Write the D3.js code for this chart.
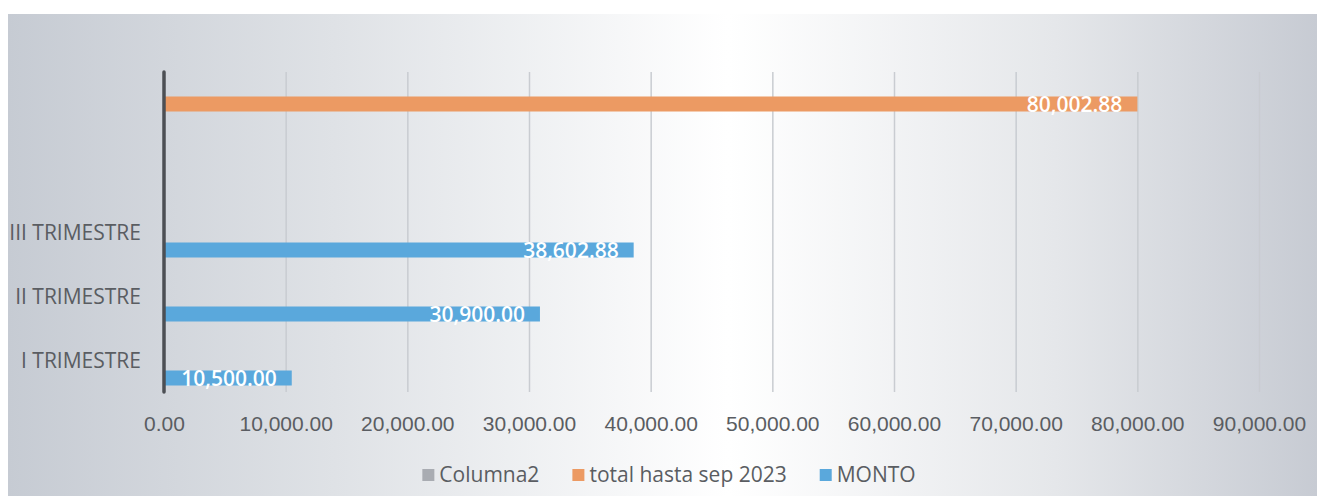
<!DOCTYPE html>
<meta charset="utf-8">
<style>
  body { margin: 0; background: #fff; }
  svg { display: block; font-family: "Open Sans", sans-serif; }
  .tick text { fill: #5a5d62; }
</style>
<body>
<svg id="chart" width="1317" height="496"></svg>
<script src="https://cdn.jsdelivr.net/npm/d3@7"></script>
<script>
  // data (bottom to top)
  var categories = ["I TRIMESTRE", "II TRIMESTRE", "III TRIMESTRE", "", ""]
  var columna2 = [null, null, null, null, null]
  var totalHasta = [null, null, null, null, 80002.88]
  var monto = [10500, 30900, 38602.88, null, null]
  var xTicks = [0, 10000, 20000, 30000, 40000, 50000, 60000, 70000, 80000, 90000]
  var seriesNames = ["Columna2", "total hasta sep 2023", "MONTO"]
  var seriesColors = ["#a9acb2", "#ec9a63", "#5aa8dc"]
  var seriesValues = [columna2, totalHasta, monto]

  var width = 1317
  var height = 496
  var margin = { top: 72, right: 57, bottom: 104, left: 164 }

  var svg = d3.select('#chart')

  // background panel gradient
  var grad = svg.append('defs').append('linearGradient')
    .attr('id', 'bg')
    .attr('x1', '0%').attr('y1', '0%')
    .attr('x2', '100%').attr('y2', '0%')
  var stops = [[0, '#c6cbd3'], [0.25, '#dfe2e6'], [0.55, '#ffffff'], [0.8, '#e5e7ea'], [1, '#c7cbd3']]
  stops.forEach(function (s) {
    grad.append('stop').attr('offset', s[0]).attr('stop-color', s[1])
  })
  svg.append('rect')
    .attr('x', 8).attr('y', 14)
    .attr('width', width - 8).attr('height', height - 14)
    .attr('fill', 'url(#bg)')

  var x = d3.scaleLinear()
    .domain([0, 90000])
    .range([margin.left, width - margin.right - 1])

  var y = d3.scaleBand()
    .domain(d3.range(categories.length).reverse())
    .range([margin.top, height - margin.bottom])

  // series position inside each category
  var ySeries = d3.scaleBand()
    .domain(seriesNames)
    .range([-27, 27])
    .paddingInner(3 / 18)
    .paddingOuter(1.5 / 18)

  var plotBottom = height - margin.bottom

  // gridlines
  svg.append('g')
    .attr('transform', 'translate(0,' + plotBottom + ')')
    .call(d3.axisBottom(x).tickValues(xTicks.slice(1)).tickSize(-(plotBottom - margin.top)).tickFormat(''))
    .call(function (g) { g.select('.domain').remove() })
    .call(function (g) {
      g.selectAll('line').attr('stroke', '#c9ccd1').attr('stroke-width', 1.5)
    })

  // x axis labels
  svg.append('g')
    .attr('transform', 'translate(0,' + (plotBottom + 21) + ')')
    .call(d3.axisBottom(x).tickValues(xTicks).tickSize(0).tickFormat(d3.format(',.2f')))
    .call(function (g) { g.select('.domain').remove() })
    .call(function (g) {
      g.selectAll('text').attr('font-size', 21).attr('dy', '0.71em')
    })

  // category labels
  svg.append('g')
    .selectAll('text')
    .data(categories)
    .enter().append('text')
    .attr('x', 141)
    .attr('y', function (d, i) { return y(i) + y.bandwidth() / 2 + 7.5 })
    .attr('text-anchor', 'end')
    .attr('font-size', 21)
    .attr('fill', '#5a5d62')
    .text(function (d) { return d })

  // bars
  seriesNames.forEach(function (name, s) {
    var rows = seriesValues[s]
      .map(function (v, i) { return { i: i, v: v } })
      .filter(function (d) { return d.v != null })

    var g = svg.append('g')
    g.selectAll('rect')
      .data(rows)
      .enter().append('rect')
      .attr('x', x(0))
      .attr('y', function (d) { return y(d.i) + y.bandwidth() / 2 + ySeries(name) })
      .attr('width', function (d) { return x(d.v) - x(0) })
      .attr('height', ySeries.bandwidth())
      .attr('fill', seriesColors[s])

    g.selectAll('text')
      .data(rows)
      .enter().append('text')
      .attr('x', function (d) { return x(d.v) - 15 })
      .attr('y', function (d) { return y(d.i) + y.bandwidth() / 2 + ySeries(name) + ySeries.bandwidth() })
      .attr('text-anchor', 'end')
      .attr('font-size', 21)
      .attr('font-weight', 600)
      .attr('fill', '#fff')
      .text(function (d) { return d3.format(',.2f')(d.v) })
  })

  // vertical axis line
  svg.append('line')
    .attr('x1', x(0)).attr('x2', x(0))
    .attr('y1', margin.top).attr('y2', plotBottom)
    .attr('stroke', '#4c4f54')
    .attr('stroke-width', 3.5)
    .attr('stroke-linecap', 'round')

  // legend
  var legend = svg.append('g')
  var lx = 0
  seriesNames.forEach(function (name, s) {
    var item = legend.append('g').attr('transform', 'translate(' + lx + ',0)')
    item.append('rect')
      .attr('x', 0).attr('y', -13)
      .attr('width', 12).attr('height', 12)
      .attr('fill', seriesColors[s])
    var t = item.append('text')
      .attr('x', 17).attr('y', 0)
      .attr('font-size', 21)
      .attr('fill', '#5a5d62')
      .text(name)
    lx += 17 + t.node().getComputedTextLength() + 33
  })
  var legendWidth = lx - 33
  legend.attr('transform', 'translate(' + (669 - legendWidth / 2) + ',482)')
</script>
</body>
